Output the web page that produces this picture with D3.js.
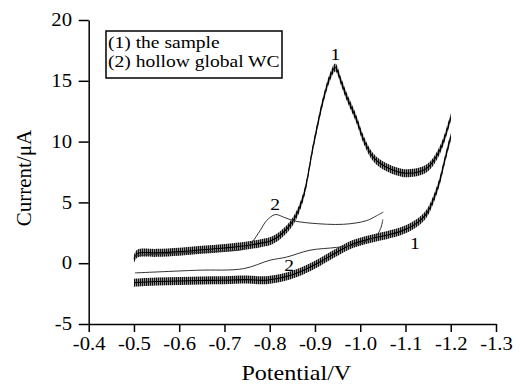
<!DOCTYPE html>
<html>
<head>
<meta charset="utf-8">
<script src="https://cdn.jsdelivr.net/npm/d3@7/dist/d3.min.js"></script>
<style>
  html, body { margin: 0; padding: 0; background: #fff; }
  svg { display: block; }
  text { font-family: "Liberation Serif", "Times New Roman", serif; fill: #000; }
</style>
</head>
<body>
<svg id="chart" width="520" height="385"></svg>
<script>
// ---------------- data ----------------
const xTicks = [-0.4, -0.5, -0.6, -0.7, -0.8, -0.9, -1.0, -1.1, -1.2, -1.3];
const yTicks = [-5, 0, 5, 10, 15, 20];

// curve 1: the sample (noisy trace), forward and reverse branches
const sampleFwdV = [-0.500, -0.508, -0.55, -0.60, -0.65, -0.70, -0.75, -0.78, -0.80, -0.823, -0.852, -0.874, -0.896, -0.918, -0.933, -0.945, -0.958, -0.970, -0.992, -1.007, -1.029, -1.058, -1.103, -1.147, -1.176, -1.200];
const sampleFwdI = [0.35, 0.8, 0.85, 0.95, 1.1, 1.25, 1.45, 1.65, 1.8, 2.3, 3.5, 5.45, 9.6, 13.4, 15.3, 16.1, 14.9, 13.7, 11.8, 10.2, 8.7, 7.9, 7.4, 7.8, 9.3, 12.0];
const sampleRevV = [-1.200, -1.187, -1.172, -1.147, -1.125, -1.095, -1.058, -1.022, -0.985, -0.948, -0.911, -0.874, -0.837, -0.793, -0.75, -0.70, -0.65, -0.60, -0.55, -0.50];
const sampleRevI = [10.4, 8.5, 6.3, 4.1, 3.3, 2.7, 2.3, 2.0, 1.6, 0.9, 0.1, -0.6, -1.1, -1.4, -1.35, -1.4, -1.42, -1.47, -1.5, -1.6];

// curve 2: hollow global WC (thin trace)
const hollowFwdV = [-0.50, -0.55, -0.60, -0.65, -0.70, -0.74, -0.761, -0.779, -0.793, -0.812, -0.830, -0.852, -0.889, -0.963, -1.014, -1.036, -1.051];
const hollowFwdI = [0.6, 0.75, 0.85, 0.9, 1.0, 1.15, 1.75, 2.7, 3.5, 4.0, 3.8, 3.5, 3.3, 3.2, 3.5, 3.9, 4.2];
const hollowRevV = [-1.050, -1.045, -1.036, -1.00, -0.948, -0.889, -0.837, -0.801, -0.742, -0.639, -0.502];
const hollowRevI = [3.6, 2.85, 2.3, 1.6, 1.3, 1.07, 0.5, 0.25, -0.45, -0.58, -0.8];

const legendLines = ["(1) the sample", "(2) hollow global WC"];
const xTitle = "Potential/V";
const yTitle = "Current/\u03BCA";

// ---------------- drawing ----------------
const svg = d3.select("#chart");
svg.append("rect").attr("width", 520).attr("height", 385).attr("fill", "#fff");

const x = d3.scaleLinear().domain([-0.4, -1.3]).range([88.7, 496]);
const y = d3.scaleLinear().domain([-5, 20]).range([324, 20]);
const SX = "scale(1.15,1)";

const defs = svg.append("defs");
const pat = defs.append("pattern").attr("id", "hatch")
  .attr("patternUnits", "userSpaceOnUse").attr("width", 2).attr("height", 4);
pat.append("rect").attr("width", 2).attr("height", 4).attr("fill", "#909090");
pat.append("rect").attr("width", 1).attr("height", 4).attr("fill", "#111");

const zip = (vs, is) => vs.map((v, k) => [v, is[k]]);

// noisy band for curve 1
const half = 4;
const band = d3.area()
  .x(d => x(d[0]))
  .y0(d => y(d[1]) + half)
  .y1(d => y(d[1]) - half)
  .curve(d3.curveCatmullRom);
const line = d3.line().x(d => x(d[0])).y(d => y(d[1])).curve(d3.curveCatmullRom);

[zip(sampleFwdV, sampleFwdI), zip(sampleRevV, sampleRevI)].forEach(d => {
  svg.append("path").datum(d).attr("d", band).attr("fill", "url(#hatch)");
  svg.append("path").datum(d).attr("d", line).attr("fill", "none")
    .attr("stroke", "#000").attr("stroke-width", 1.1);
});

// thin curve 2
[zip(hollowFwdV, hollowFwdI), zip(hollowRevV, hollowRevI)].forEach(d => {
  svg.append("path").datum(d).attr("d", line).attr("fill", "none")
    .attr("stroke", "#333").attr("stroke-width", 1);
});

// axes
const xAxis = d3.axisBottom(x).tickValues(xTicks).tickSize(8).tickPadding(5)
  .tickFormat(v => v.toFixed(1)).tickSizeOuter(0);
const gx = svg.append("g").attr("transform", "translate(0,324)").call(xAxis);
const yAxis = d3.axisLeft(y).tickValues(yTicks).tickSize(10).tickPadding(4.5)
  .tickFormat(v => String(v)).tickSizeOuter(0);
const gy = svg.append("g").attr("transform", "translate(88.7,0)").call(yAxis);
[gx, gy].forEach(g => {
  g.select(".domain").attr("stroke", "#000").attr("stroke-width", 1.5);
  g.selectAll(".tick line").attr("stroke", "#000").attr("stroke-width", 1.5);
  g.selectAll(".tick text").attr("font-family", "Liberation Serif")
    .attr("font-size", 18).attr("fill", "#000").attr("transform", SX);
});

// axis titles
svg.append("text").attr("transform", `translate(${(88.7 + 496) / 2 + 4},380) ${SX}`)
  .attr("text-anchor", "middle").attr("font-size", 21).text(xTitle);
svg.append("text").attr("transform", "translate(31,178) rotate(-90)")
  .attr("text-anchor", "middle").attr("font-size", 21).text(yTitle);

// legend
svg.append("rect").attr("x", 106).attr("y", 31).attr("width", 176).attr("height", 47)
  .attr("fill", "#fff").attr("stroke", "#000").attr("stroke-width", 1.5);
legendLines.forEach((t, k) => {
  svg.append("text").attr("transform", `translate(108,${48 + k * 19}) ${SX}`)
    .attr("font-size", 17).text(t);
});

// curve labels
const labels = [
  { t: "1", v: -0.945, i: 16.1, dx: 0, dy: -7 },
  { t: "2", v: -0.812, i: 4.0, dx: 0, dy: -5 },
  { t: "2", v: -0.874, i: -0.6, dx: -14, dy: 1 },
  { t: "1", v: -1.125, i: 3.3, dx: -2, dy: 26 }
];
labels.forEach(l => {
  svg.append("text")
    .attr("transform", `translate(${x(l.v) + l.dx},${y(l.i) + l.dy}) ${SX}`)
    .attr("text-anchor", "middle").attr("font-size", 17).text(l.t);
});
</script>
</body>
</html>
